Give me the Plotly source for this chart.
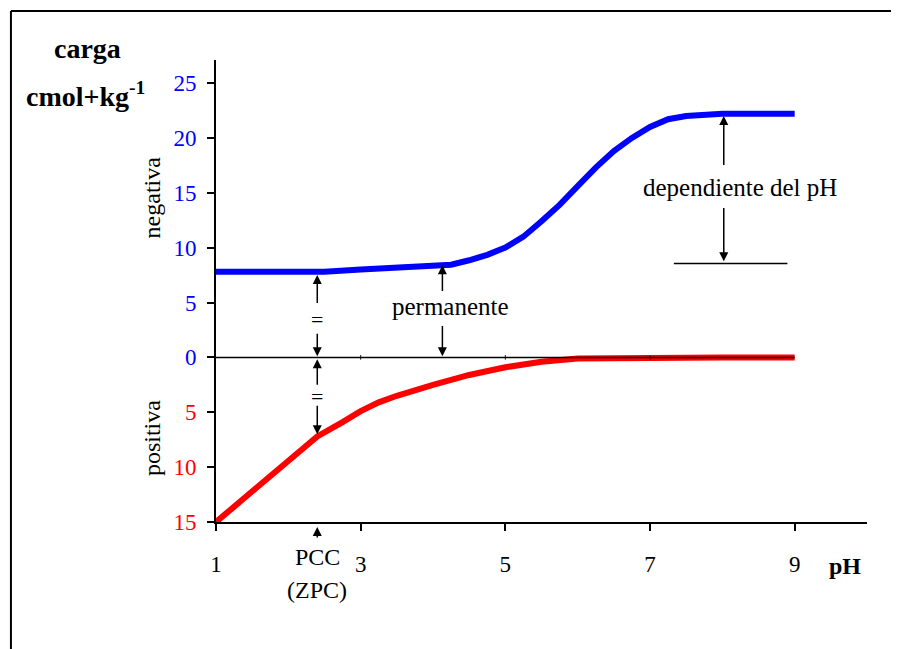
import plotly.graph_objects as go

# ---- data ----
ph_neg = [1, 1.5, 2, 2.5, 3, 3.5, 4, 4.25, 4.5, 4.75, 5, 5.25, 5.5, 5.75, 6, 6.25, 6.5, 6.75, 7, 7.25, 7.5, 7.75, 8, 8.5, 9]
carga_negativa = [7.8, 7.8, 7.8, 7.8, 8.0, 8.15, 8.3, 8.45, 8.85, 9.35, 10.0, 11.0, 12.4, 13.9, 15.6, 17.3, 18.8, 20.0, 21.0, 21.7, 22.0, 22.15, 22.2, 22.2, 22.2]

ph_pos = [1, 1.5, 2, 2.4, 2.75, 3, 3.25, 3.5, 4, 4.5, 5, 5.5, 6, 6.5, 7, 8, 9]
carga_positiva = [-15, -12.2, -9.4, -7.2, -5.9, -4.9, -4.1, -3.5, -2.5, -1.6, -0.9, -0.4, -0.1, -0.05, 0, 0, 0]

x_ticks = [1, 3, 5, 7, 9]
y_ticks = [-15, -10, -5, 0, 5, 10, 15, 20, 25]
y_ticktext = ['<span style="color:#ff0000">15</span>', '<span style="color:#ff0000">10</span>',
              '<span style="color:#ff0000">5</span>', '<span style="color:#0000ff">0</span>',
              '<span style="color:#0000ff">5</span>', '<span style="color:#0000ff">10</span>',
              '<span style="color:#0000ff">15</span>', '<span style="color:#0000ff">20</span>',
              '<span style="color:#0000ff">25</span>']

ph_pcc = 2.4
ph_perm = 4.13
ph_dep = 8.02

FONT = "Liberation Serif, Times New Roman, serif"

fig = go.Figure()
fig.add_trace(go.Scatter(x=ph_neg, y=carga_negativa, mode="lines",
                         line=dict(color="#0000ff", width=6), showlegend=False, hoverinfo="skip"))
fig.add_trace(go.Scatter(x=ph_pos, y=carga_positiva, mode="lines",
                         line=dict(color="#ff0000", width=6), showlegend=False, hoverinfo="skip"))

shapes = []
# zero line
shapes.append(dict(type="line", xref="x", yref="y", x0=1, x1=9, y0=0, y1=0,
                   line=dict(color="black", width=1.5), layer="above"))
for t in [3, 5, 7]:
    shapes.append(dict(type="line", xref="x", yref="y", x0=t, x1=t, y0=-0.2, y1=0.2,
                       line=dict(color="black", width=1), layer="above"))
# baseline for "dependiente del pH"
shapes.append(dict(type="line", xref="x", yref="y", x0=7.33, x1=8.9, y0=8.56, y1=8.56,
                   line=dict(color="black", width=1.5)))
# outer frame (left and top edges; the rest lies outside the window)
shapes.append(dict(type="line", xref="paper", yref="paper", x0=-0.315, x1=-0.315, y0=-0.4, y1=1.106,
                   line=dict(color="black", width=2)))
shapes.append(dict(type="line", xref="paper", yref="paper", x0=-0.315, x1=1.3, y0=1.106, y1=1.106,
                   line=dict(color="black", width=2)))

annotations = []

def arrow(x, y_tail, y_head):
    annotations.append(dict(x=x, y=y_head, ax=x, ay=y_tail, xref="x", yref="y",
                            axref="x", ayref="y", text="", showarrow=True,
                            arrowhead=2, arrowsize=1.2, arrowwidth=1.5, arrowcolor="black"))

arrow(ph_pcc, 4.83, 7.5)
arrow(ph_pcc, 2.28, 0.1)
arrow(ph_pcc, -2.64, -0.18)
arrow(ph_pcc, -4.28, -7.0)
arrow(ph_perm, 5.92, 8.4)
arrow(ph_perm, 3.0, 0.1)
arrow(ph_dep, 17.4, 22.0)
arrow(ph_dep, 13.76, 8.75)

def text(x, y, s, size=24, bold=False, xref="x", yref="y", angle=0, color="black"):
    annotations.append(dict(x=x, y=y, xref=xref, yref=yref, text=("<b>%s</b>" % s) if bold else s,
                            showarrow=False, textangle=angle, xanchor="center", yanchor="middle",
                            font=dict(family=FONT, size=size, color=color)))

text(ph_pcc, 3.46, "=", size=22)
text(ph_pcc, -3.55, "=", size=22)
text(4.24, 4.65, "permanente", size=25)
text(8.25, 15.5, "dependiente del pH", size=25)

# PCC arrow below axis
annotations.append(dict(x=ph_pcc, y=-0.011, xref="x", yref="paper", ax=0, ay=12, text="",
                        showarrow=True, arrowhead=2, arrowsize=1.2, arrowwidth=1.5, arrowcolor="black"))
text(ph_pcc, -0.076, "PCC", yref="paper")
text(ph_pcc, -0.147, "(ZPC)", yref="paper")
text(0.966, -0.095, "pH", size=24, bold=True, xref="paper", yref="paper")
text(-0.198, 1.024, "carga", size=28, bold=True, xref="paper", yref="paper")
text(-0.201, 0.925, "cmol+kg<sup>-1</sup>", size=28, bold=True, xref="paper", yref="paper")
text(-0.098, 0.703, "negativa", xref="paper", yref="paper", angle=-90)
text(-0.098, 0.182, "positiva", xref="paper", yref="paper", angle=-90)

fig.update_layout(
    width=899, height=649,
    margin=dict(l=208, r=40, t=52, b=135),
    paper_bgcolor="white", plot_bgcolor="white",
    font=dict(family=FONT, size=23, color="black"),
    shapes=shapes, annotations=annotations,
    xaxis=dict(range=[1, 10], tickvals=x_ticks, ticks="outside", ticklen=7, tickwidth=1.5,
               tickcolor="black", showline=True, linecolor="black", linewidth=2,
               showgrid=False, zeroline=False, ticklabelstandoff=13,
               tickfont=dict(family=FONT, size=23, color="black")),
    yaxis=dict(range=[-15, 27.1], tickvals=y_ticks, ticktext=y_ticktext, ticks="outside",
               ticklen=7, tickwidth=1.5, tickcolor="black", showline=True, linecolor="black",
               linewidth=2, showgrid=False, zeroline=False, ticklabelstandoff=6,
               tickfont=dict(family=FONT, size=23)),
)

fig.write_html("out.html")
